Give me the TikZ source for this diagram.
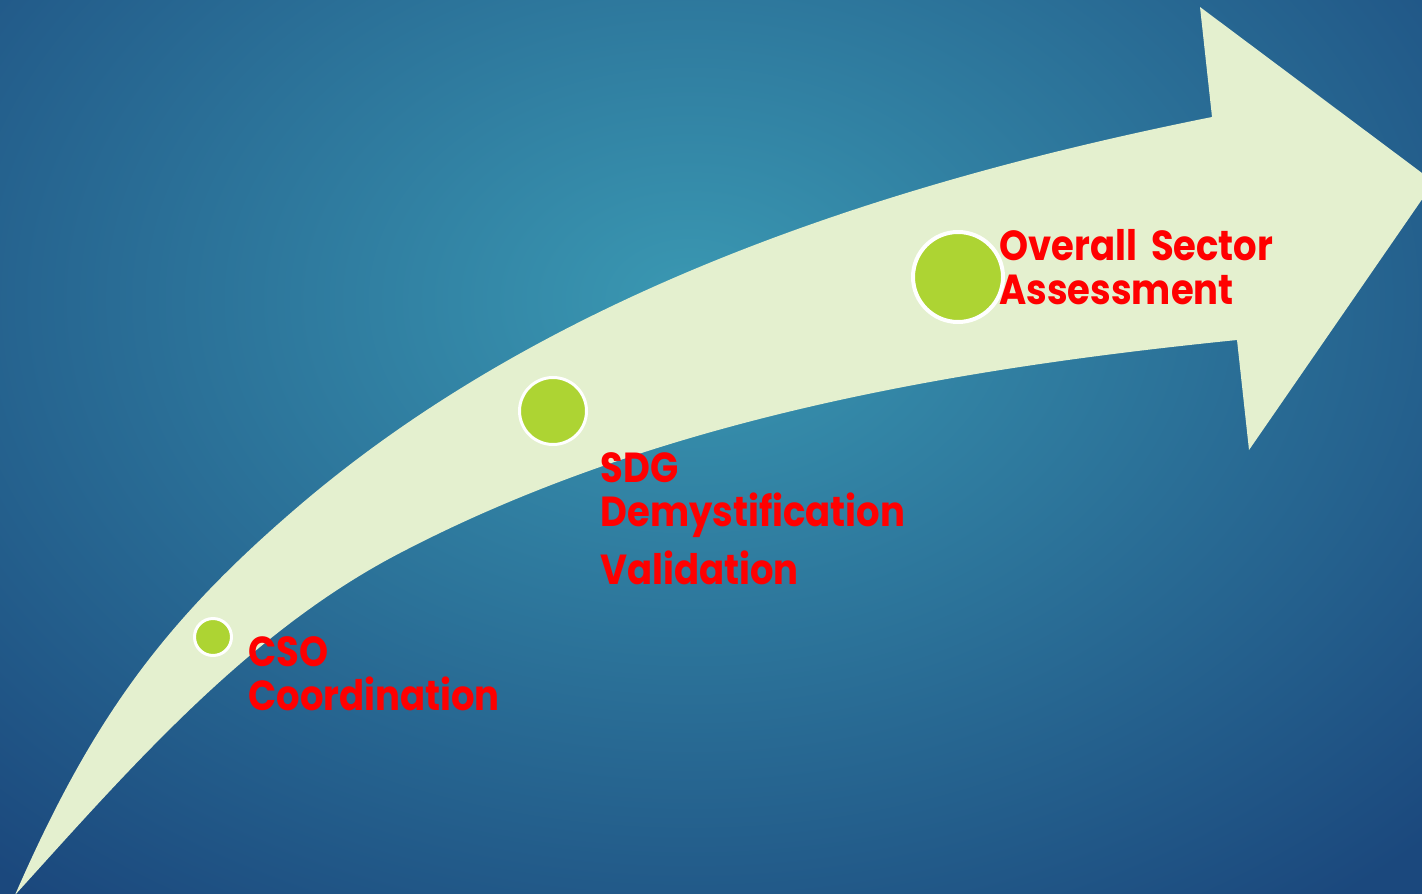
\documentclass[tikz,border=0pt]{standalone}
\usepackage{fontspec}
\setmainfont{Poppins}[FakeStretch=0.88]
\usetikzlibrary{positioning}

\definecolor{bgin}{HTML}{3A98B2}
\definecolor{bgout}{HTML}{1B487D}
\definecolor{cream}{HTML}{E4F0CF}
\definecolor{dotgreen}{HTML}{ADD433}

\tikzset{
  dot/.style={circle, draw=white, fill=dotgreen, line width=1.5pt, inner sep=0pt},
  lbl/.style={text=red, font=\fontsize{21}{22}\selectfont\bfseries, align=left, inner sep=0pt}
}

\begin{document}
\begin{tikzpicture}[x=0.5pt,y=-0.5pt]
\useasboundingbox (0,0) rectangle (1422,893);
\clip (-10,-10) rectangle (1432,903);

% background
\fill[bgout] (-10,-10) rectangle (1432,903);
\shade[inner color=bgin, outer color=bgout] (690,300) ellipse (1050 and 760);

% the arrow
\fill[cream] (15,895) .. controls (92,719) and (163,622) .. (300,505)
  .. controls (551,291) and (888,182) .. (1212,117)
  -- (1200,7) -- (1434,182) -- (1249,450) -- (1237,340)
  .. controls (950,369) and (655,420) .. (400,553)
  .. controls (248,632) and (131,767) .. (15,895) -- cycle;

% steps
\node[dot, minimum size=18.5pt] (cso) at (213,637) {};
\node[dot, minimum size=33.5pt] (sdg) at (553,411) {};
\node[dot, minimum size=45pt, line width=2pt] (osa) at (958,277) {};

\node[lbl, anchor=base west] (csotxt) at (248,710) {CSO\\Coordination};
\node[lbl, anchor=base west] (sdgtxt) at (600,584) {SDG\\Demystification\\[5.5pt]Validation};
\node[lbl, anchor=base west] (osatxt) at (999,304) {Overall\hspace{7pt}Sector\\Assessment};

\end{tikzpicture}
\end{document}
